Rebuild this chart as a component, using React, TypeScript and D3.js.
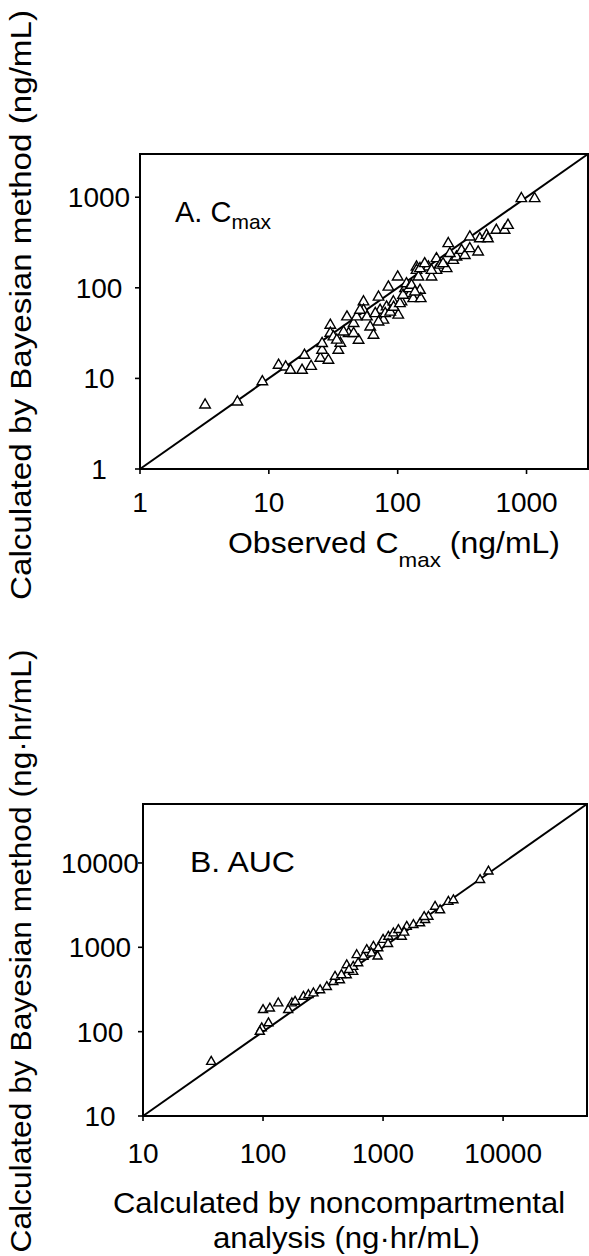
import React from 'react';
import * as d3 from 'd3';

// Panel A: Cmax (ng/mL)
const cmaxObserved = [3.2, 5.7, 8.9, 11.9, 13.5, 14.7, 18.1, 21.3, 18.9, 25.1, 29, 25.9, 25.9, 30, 30, 34.6, 35.9, 31.7, 40.4, 41.6, 49.7, 45.5, 54.3, 54.3, 57.7, 61.2, 64.9, 71, 73, 77.5, 82, 84.7, 92.6, 100, 101, 107, 114, 117, 125, 132, 140, 140, 145, 149, 151, 173, 183, 200, 200, 213, 240, 247, 270, 286, 313, 332, 363, 363, 421, 434, 489, 502, 583, 676, 718, 912, 1156, 33.7, 38, 45.5, 48, 51, 67, 71, 80, 87.5, 93, 104, 110, 122, 128, 136, 149, 162, 183, 225, 254];
const cmaxBayesian = [5.1, 5.5, 9.2, 14, 13.4, 12.3, 12.3, 13.6, 18, 16.7, 15.9, 20.5, 24.3, 38.7, 31.6, 20.5, 24.5, 28.8, 47.8, 31.4, 26.4, 40.4, 70, 56.6, 47.8, 37, 30, 79, 56.6, 44, 61.6, 102, 70, 132, 50, 70, 98, 111, 86, 76, 170, 156, 132, 94, 76, 170, 132, 210, 156, 178, 163, 308, 201, 219, 259, 228, 364, 271, 249, 348, 380, 348, 432, 432, 490, 966, 966, 26.5, 32.6, 31.4, 47.8, 56.6, 52, 42, 52, 54, 61, 67, 83, 98, 107, 90, 163, 185, 156, 185, 239];

// Panel B: AUC (ng·hr/mL)
const aucNCA = [37, 97.5, 94, 111, 100, 114, 134, 162, 174, 185, 217, 239, 263, 299, 340, 385, 437, 498, 564, 398, 498, 603, 564, 686, 731, 831, 912, 1000, 1107, 1219, 1342, 1432, 1575, 1790, 2033, 2240, 2387, 2712, 2985, 3500, 3855, 6430, 7550, 450, 520, 620, 800, 1100, 1500, 2200, 900];
const aucBayesian = [44, 110, 100, 126, 181, 189, 217, 181, 217, 227, 260, 272, 285, 311, 340, 390, 408, 468, 513, 449, 616, 810, 589, 776, 933, 1019, 977, 1230, 1340, 1468, 1608, 1340, 1762, 1845, 1932, 2115, 2313, 3040, 2756, 3470, 3630, 6310, 7940, 470, 540, 650, 850, 1100, 1500, 2300, 780];

const cmaxTicks = [1, 10, 100, 1000];
const cmaxTickLabels = ['1', '10', '100', '1000'];
const aucTicks = [10, 100, 1000, 10000];
const aucTickLabels = ['10', '100', '1000', '10000'];
const cmaxDomain = [1, 3000];
const aucDomain = [10, 50000];

const FONT = "'Liberation Sans', Arial, Helvetica, sans-serif";

type PanelProps = {
  xs: number[];
  ys: number[];
  domain: number[];
  ticks: number[];
  tickLabels: string[];
  x0: number; x1: number; y0: number; y1: number;
  yLabelX: number;
  xLabelY: number;
  symSize: number;
  fontSize: number;
};

function Panel(p: PanelProps) {
  const x = d3.scaleLog().domain(p.domain).range([p.x0, p.x1]);
  const y = d3.scaleLog().domain(p.domain).range([p.y1, p.y0]);
  const tri = d3.symbol().type(d3.symbolTriangle).size(p.symSize)();
  return (
    <g>
      <rect x={p.x0} y={p.y0} width={p.x1 - p.x0} height={p.y1 - p.y0} fill="none" stroke="#000" strokeWidth={2} />
      <line x1={x(p.domain[0])} y1={y(p.domain[0])} x2={x(p.domain[1])} y2={y(p.domain[1])} stroke="#000" strokeWidth={2} />
      {p.ticks.map((t, i) => (
        <g key={'yt' + i}>
          <line x1={p.x0 - 5} x2={p.x0} y1={y(t)} y2={y(t)} stroke="#000" strokeWidth={1.6} />
          <text x={p.yLabelX} y={y(t)} dy="0.36em" textAnchor="middle" fontSize={p.fontSize} fontFamily={FONT}>{p.tickLabels[i]}</text>
        </g>
      ))}
      {p.ticks.map((t, i) => (
        <g key={'xt' + i}>
          <line x1={x(t)} x2={x(t)} y1={p.y1} y2={p.y1 + 5} stroke="#000" strokeWidth={1.6} />
          <text x={x(t)} y={p.xLabelY} textAnchor="middle" fontSize={p.fontSize} fontFamily={FONT}>{p.tickLabels[i]}</text>
        </g>
      ))}
      {p.xs.map((v, i) => (
        <path key={'pt' + i} d={tri as string} transform={`translate(${x(v)},${y(p.ys[i])})`} fill="#fff" stroke="#000" strokeWidth={1.4} />
      ))}
    </g>
  );
}

export default function App() {
  return (
    <div style={{ position: 'absolute', left: 0, top: 0 }}>
      <svg width={589} height={1256} style={{ display: 'block', background: '#fff' }}>
        <rect x={0} y={0} width={589} height={1256} fill="#fff" />
        <Panel xs={cmaxObserved} ys={cmaxBayesian} domain={cmaxDomain} ticks={cmaxTicks} tickLabels={cmaxTickLabels}
          x0={140} x1={588} y0={154} y1={469} yLabelX={99} xLabelY={512} symSize={48} fontSize={28} />
        <Panel xs={aucNCA} ys={aucBayesian} domain={aucDomain} ticks={aucTicks} tickLabels={aucTickLabels}
          x0={143} x1={587} y0={804} y1={1116} yLabelX={100} xLabelY={1163} symSize={36} fontSize={28} />

        {/* Panel labels */}
        <text x={175} y={222} fontSize={29} fontFamily={FONT}>
          A. C<tspan fontSize={21} dy={7}>max</tspan>
        </text>
        <text x={190} y={872} fontSize={30} fontFamily={FONT} textLength={105} lengthAdjust="spacingAndGlyphs">B. AUC</text>

        {/* Axis titles A */}
        <text x={228} y={553} fontSize={30} fontFamily={FONT} textLength={332} lengthAdjust="spacingAndGlyphs">
          Observed C<tspan fontSize={21} dy={14}>max</tspan><tspan dy={-14}> (ng/mL)</tspan>
        </text>
        <text transform="translate(31,305) rotate(-90)" textAnchor="middle" fontSize={29} fontFamily={FONT}
          textLength={590} lengthAdjust="spacingAndGlyphs">Calculated by Bayesian method (ng/mL)</text>

        {/* Axis titles B */}
        <text x={113} y={1213} fontSize={30} fontFamily={FONT} textLength={452} lengthAdjust="spacingAndGlyphs">Calculated by noncompartmental</text>
        <text x={213} y={1248} fontSize={30} fontFamily={FONT} textLength={267} lengthAdjust="spacingAndGlyphs">analysis (ng·hr/mL)</text>
        <text transform="translate(31,951) rotate(-90)" textAnchor="middle" fontSize={29} fontFamily={FONT}
          textLength={603} lengthAdjust="spacingAndGlyphs">Calculated by Bayesian method (ng·hr/mL)</text>
      </svg>
    </div>
  );
}
